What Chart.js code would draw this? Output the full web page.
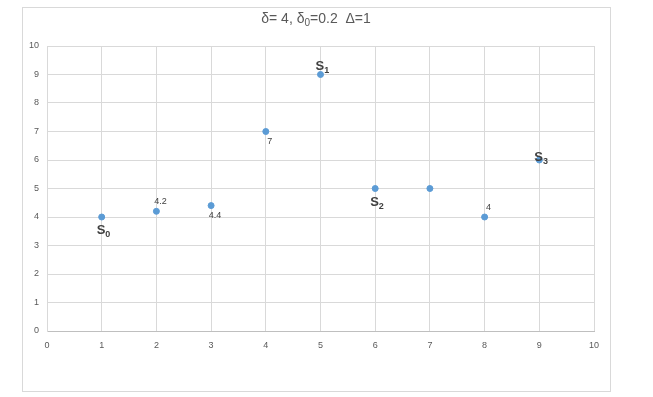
<!DOCTYPE html>
<html>
<head>
<meta charset="utf-8">
<script src="https://cdn.jsdelivr.net/npm/chart.js@4"></script>
<style>
  html, body { margin: 0; padding: 0; background: #fff; }
  #wrap { width: 653px; height: 397px; position: relative; }
</style>
</head>
<body>
<div id="wrap"><canvas id="chart" width="653" height="397"></canvas></div>
<script>
// data
const xValues = [1, 2, 3, 4, 5, 6, 7, 8, 9];
const yValues = [4, 4.2, 4.4, 7, 9, 5, 5, 4, 6];
const valueLabels = [null, '4.2', '4.4', '7', null, null, null, '4', null];
const valuePlace = [null, 'above', 'below', 'below', null, null, null, 'above', null];
const stateLabels = ['0', null, null, null, '1', '2', null, null, '3'];
const statePlace = ['below', null, null, null, 'above', 'below', null, null, 'on'];
const tickValues = [0, 1, 2, 3, 4, 5, 6, 7, 8, 9, 10];

const FONT = '"Liberation Sans", "Open Sans", sans-serif';

// frame, title and point labels
const decorations = {
    id: 'decorations',
    beforeDraw(chart) {
        const ctx = chart.ctx;
        ctx.save();
        ctx.strokeStyle = '#d9d9d9';
        ctx.lineWidth = 1;
        ctx.strokeRect(22.5, 7.5, 588, 384);
        ctx.restore();
    },
    afterDraw(chart) {
        const ctx = chart.ctx;
        const xs = chart.scales.x, ys = chart.scales.y;
        ctx.save();

        // title with subscript
        ctx.fillStyle = '#595959';
        ctx.textBaseline = 'alphabetic';
        const parts = [['δ= 4, δ', 14, 0], ['0', 10, 3], ['=0.2  Δ=1', 14, 0]];
        let total = 0;
        parts.forEach(p => { ctx.font = p[1] + 'px ' + FONT; total += ctx.measureText(p[0]).width; });
        let tx = 316 - total / 2;
        parts.forEach(p => {
            ctx.font = p[1] + 'px ' + FONT;
            ctx.fillText(p[0], tx, 23 + p[2]);
            tx += ctx.measureText(p[0]).width;
        });

        // numeric labels
        ctx.font = '9px ' + FONT;
        ctx.fillStyle = '#404040';
        ctx.textAlign = 'center';
        xValues.forEach((x, i) => {
            if (!valueLabels[i]) return;
            const px = xs.getPixelForValue(x), py = ys.getPixelForValue(yValues[i]);
            const dy = valuePlace[i] === 'above' ? -7 : 12;
            ctx.fillText(valueLabels[i], px + 4, py + dy);
        });

        // S labels
        ctx.textAlign = 'left';
        xValues.forEach((x, i) => {
            if (!stateLabels[i]) return;
            const px = xs.getPixelForValue(x), py = ys.getPixelForValue(yValues[i]);
            let bx = px - 5, by;
            if (statePlace[i] === 'below') by = py + 17;
            else if (statePlace[i] === 'above') by = py - 5;
            else by = py + 1;
            ctx.font = 'bold 13px ' + FONT;
            ctx.fillText('S', bx, by);
            const w = ctx.measureText('S').width;
            ctx.font = 'bold 9px ' + FONT;
            ctx.fillText(stateLabels[i], bx + w, by + 3);
        });
        ctx.restore();
    }
};

new Chart(document.getElementById('chart'), {
    type: 'scatter',
    data: {
        datasets: [{
            data: xValues.map((x, i) => ({ x: x, y: yValues[i] })),
            backgroundColor: '#5b9bd5',
            borderColor: '#5b9bd5',
            pointRadius: 3,
            pointHoverRadius: 3
        }]
    },
    options: {
        responsive: false,
        animation: false,
        layout: { padding: { left: 22, right: 59, top: 46, bottom: 30 } },
        plugins: { legend: { display: false }, tooltip: { enabled: false } },
        scales: {
            x: {
                type: 'linear',
                min: 0, max: 10,
                afterBuildTicks: s => { s.ticks = tickValues.map(v => ({ value: v })); },
                afterFit: s => { s.height = 36; },
                grid: { color: '#d9d9d9', drawTicks: false },
                border: { color: '#bfbfbf' },
                ticks: { padding: 9, color: '#595959', font: { size: 9, family: FONT } }
            },
            y: {
                type: 'linear',
                min: 0, max: 10,
                afterBuildTicks: s => { s.ticks = tickValues.map(v => ({ value: v })); },
                afterFit: s => { s.width = 25; },
                grid: { color: '#d9d9d9', drawTicks: false },
                border: { color: '#d9d9d9' },
                ticks: { padding: 8, color: '#595959', font: { size: 9, family: FONT } }
            }
        }
    },
    plugins: [decorations]
});
</script>
</body>
</html>
